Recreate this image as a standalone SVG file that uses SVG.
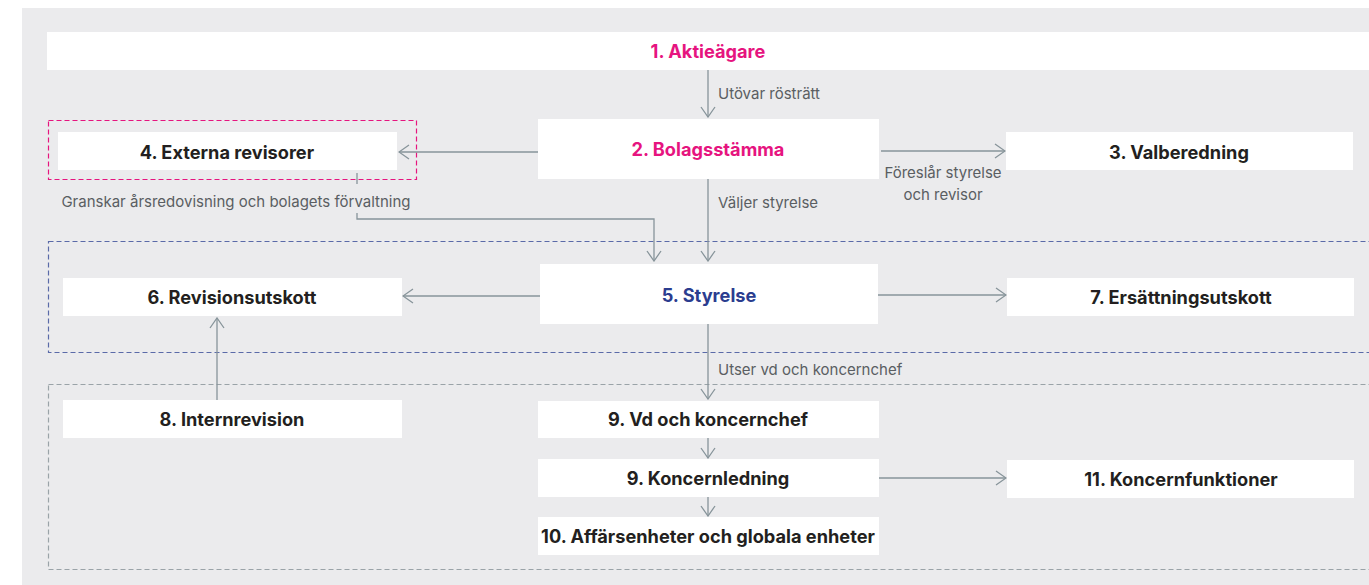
<svg xmlns="http://www.w3.org/2000/svg" width="1369" height="585" viewBox="0 0 1369 585">
<style>
.box{fill:#ffffff}
.t{font-family:Inter,"Noto Sans","Liberation Sans",sans-serif;font-weight:700;font-size:18.2px;fill:#231f20;text-anchor:middle}
.pink{fill:#e6147f}
.blue{fill:#2b3d8f}
.lbl{font-family:Inter,"Noto Sans","Liberation Sans",sans-serif;font-weight:400;font-size:15px;fill:#5a5e62}
.c{fill:none;stroke:#87949a;stroke-width:1.3}
</style>
<defs>
<marker id="ah" viewBox="0 0 12 16" refX="11" refY="8" markerWidth="12" markerHeight="16" markerUnits="userSpaceOnUse" orient="auto">
<path d="M1,1 L11,8 L1,15" fill="none" stroke="#87949a" stroke-width="1.3"/>
</marker>
</defs>
<rect x="22" y="8" width="1347" height="577" fill="#ebebed"/>
<g id="groups">
<rect x="48.5" y="120.5" width="368" height="59" fill="none" stroke="#e6147f" stroke-width="1.2" stroke-dasharray="5,3"/>
<rect x="48.5" y="241.5" width="1330" height="111" fill="none" stroke="#5a6aa8" stroke-width="1.2" stroke-dasharray="5,3"/>
<rect x="48.5" y="384.5" width="1330" height="185" fill="none" stroke="#9aa3a8" stroke-width="1.2" stroke-dasharray="5,3"/>
</g>
<g id="connectors">
<line class="c" x1="708" y1="70" x2="708" y2="117" marker-end="url(#ah)"/>
<line class="c" x1="538" y1="152" x2="399" y2="152" marker-end="url(#ah)"/>
<line class="c" x1="881" y1="151" x2="1005" y2="151" marker-end="url(#ah)"/>
<line class="c" x1="708" y1="179" x2="708" y2="261" marker-end="url(#ah)"/>
<line class="c" x1="357" y1="173" x2="357" y2="184"/>
<polyline class="c" points="357,213 357,219 654,219 654,261" marker-end="url(#ah)"/>
<line class="c" x1="540" y1="296" x2="403" y2="296" marker-end="url(#ah)"/>
<line class="c" x1="878" y1="295" x2="1006" y2="295" marker-end="url(#ah)"/>
<line class="c" x1="217" y1="400" x2="217" y2="318" marker-end="url(#ah)"/>
<line class="c" x1="708" y1="324" x2="708" y2="399" marker-end="url(#ah)"/>
<line class="c" x1="708" y1="438" x2="708" y2="458" marker-end="url(#ah)"/>
<line class="c" x1="708" y1="497" x2="708" y2="516" marker-end="url(#ah)"/>
<line class="c" x1="879" y1="478" x2="1006" y2="478" marker-end="url(#ah)"/>
<text class="lbl" x="718" y="99">Utövar rösträtt</text>
<text class="lbl" x="718" y="208">Väljer styrelse</text>
<text class="lbl" x="943" y="178" text-anchor="middle">Föreslår styrelse</text>
<text class="lbl" x="943" y="200" text-anchor="middle">och revisor</text>
<text class="lbl" x="236" y="207" text-anchor="middle">Granskar årsredovisning och bolagets förvaltning</text>
<text class="lbl" x="718" y="375">Utser vd och koncernchef</text>
</g>
<g id="n1"><rect class="box" x="47" y="32" width="1322" height="38"/><text class="t pink" x="708" y="58">1. Aktieägare</text></g>
<g id="n2"><rect class="box" x="538" y="119" width="341" height="60"/><text class="t pink" x="708" y="156">2. Bolagsstämma</text></g>
<g id="n3"><rect class="box" x="1006" y="132" width="347" height="38"/><text class="t" x="1179" y="159">3. Valberedning</text></g>
<g id="n4"><rect class="box" x="58" y="132" width="339" height="38"/><text class="t" x="227" y="159">4. Externa revisorer</text></g>
<g id="n5"><rect class="box" x="540" y="264" width="338" height="60"/><text class="t blue" x="709" y="302">5. Styrelse</text></g>
<g id="n6"><rect class="box" x="63" y="278" width="339" height="38"/><text class="t" x="232" y="304">6. Revisionsutskott</text></g>
<g id="n7"><rect class="box" x="1007" y="278" width="347" height="38"/><text class="t" x="1181" y="304">7. Ersättningsutskott</text></g>
<g id="n8"><rect class="box" x="63" y="400" width="339" height="38"/><text class="t" x="232" y="426">8. Internrevision</text></g>
<g id="n9a"><rect class="box" x="538" y="401" width="341" height="37"/><text class="t" x="708" y="426">9. Vd och koncernchef</text></g>
<g id="n9b"><rect class="box" x="538" y="459" width="341" height="38"/><text class="t" x="708" y="485">9. Koncernledning</text></g>
<g id="n10"><rect class="box" x="538" y="517" width="341" height="38"/><text class="t" x="708" y="543">10. Affärsenheter och globala enheter</text></g>
<g id="n11"><rect class="box" x="1007" y="460" width="347" height="38"/><text class="t" x="1181" y="486">11. Koncernfunktioner</text></g>
</svg>
